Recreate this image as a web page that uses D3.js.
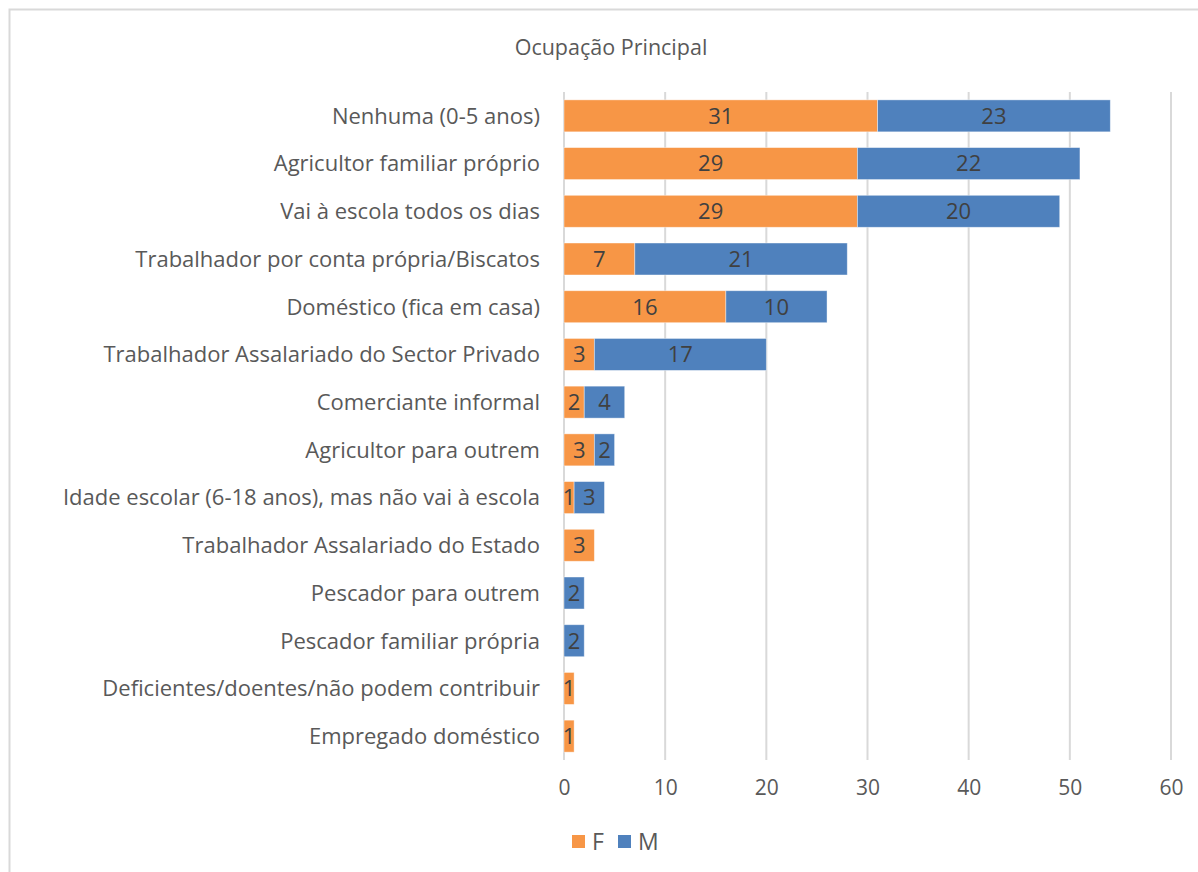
<!DOCTYPE html>
<html><head><meta charset="utf-8">
<script src="https://cdn.jsdelivr.net/npm/d3@7"></script>
<style>body{margin:0;background:#fff}svg{display:block}</style>
</head><body>
<svg id="c" width="1198" height="872"></svg>
<script>
const categories = ["Nenhuma (0-5 anos)","Agricultor familiar próprio","Vai à escola todos os dias","Trabalhador por conta própria/Biscatos","Doméstico (fica em casa)","Trabalhador Assalariado do Sector Privado","Comerciante informal","Agricultor para outrem","Idade escolar (6-18 anos), mas não vai à escola","Trabalhador Assalariado do Estado","Pescador para outrem","Pescador familiar própria","Deficientes/doentes/não podem contribuir","Empregado doméstico"];
const valuesF = [31,29,29,7,16,3,2,3,1,3,0,0,1,1];
const valuesM = [23,22,20,21,10,17,4,2,3,0,2,2,0,0];
const seriesNames = ["F","M"];
const colors = ["#F79646","#4F81BD"];
const xTicks = [0,10,20,30,40,50,60];
const title = "Ocupação Principal";

const svg = d3.select("#c");
const font = "'Open Sans', sans-serif";
svg.append("rect").attr("x",9.5).attr("y",9.5).attr("width",1300).attr("height",1000)
  .attr("fill","#fff").attr("stroke","#d9d9d9").attr("stroke-width",2);

const probe = svg.append("text").attr("font-family",font).attr("font-size",18)
  .text("Idade escolar (6-18 anos), mas não vai à escola");
const fs = Math.min(22, 18 * 480 / probe.node().getComputedTextLength());
probe.remove();

const x = d3.scaleLinear().domain([0,60]).range([564,1171]);
const y = d3.scaleBand().domain(categories).range([92,760]).paddingInner(0.33).paddingOuter(0.165);

svg.append("g").selectAll("line").data(xTicks).join("line")
  .attr("x1",d=>x(d)).attr("x2",d=>x(d)).attr("y1",92).attr("y2",760)
  .attr("stroke","#d9d9d9").attr("stroke-width",2);

const stack = d3.stack().keys([0,1]).value((d,k)=>k===0?d.F:d.M);
const rows = categories.map((c,i)=>({cat:c,F:valuesF[i],M:valuesM[i]}));
const series = stack(rows);

series.forEach((s,k)=>{
  const g = svg.append("g");
  const dat = s.filter(d=>d[1]-d[0]>0);
  g.selectAll("rect").data(dat).join("rect")
    .attr("x",d=>x(d[0])).attr("width",d=>x(d[1])-x(d[0]))
    .attr("y",d=>y(d.data.cat)).attr("height",y.bandwidth())
    .attr("fill",colors[k]).attr("stroke","#fff").attr("stroke-opacity",0.5).attr("stroke-width",0.8);
  g.selectAll("text").data(dat).join("text")
    .attr("x",d=>(x(d[0])+x(d[1]))/2).attr("y",d=>y(d.data.cat)+y.bandwidth()/2)
    .attr("dy","0.36em").attr("text-anchor","middle")
    .attr("font-family",font).attr("font-size",fs).attr("fill","#404040")
    .text(d=>d[1]-d[0]);
});

svg.append("g").selectAll("text").data(categories).join("text")
  .attr("x",540).attr("y",d=>y(d)+y.bandwidth()/2).attr("dy","0.36em")
  .attr("text-anchor","end").attr("font-family",font).attr("font-size",fs).attr("fill","#595959")
  .text(d=>d);

const xa = svg.append("g").attr("transform","translate(0,772)")
  .call(d3.axisBottom(x).tickValues(xTicks).tickSize(0).tickPadding(8));
xa.select(".domain").remove();
xa.selectAll("text").attr("font-family",font).attr("font-size",fs-1).attr("fill","#595959");

svg.append("text").attr("x",611).attr("y",55).attr("text-anchor","middle")
  .attr("font-family",font).attr("font-size",fs-0.5).attr("fill","#595959").text(title);

const lg = svg.append("g");
const lx = [572,618];
seriesNames.forEach((n,i)=>{
  lg.append("rect").attr("x",lx[i]).attr("y",835).attr("width",13).attr("height",13).attr("fill",colors[i]);
  lg.append("text").attr("x",lx[i]+20).attr("y",850).attr("font-family",font).attr("font-size",fs+1)
    .attr("fill","#595959").text(n);
});
</script>
</body></html>
